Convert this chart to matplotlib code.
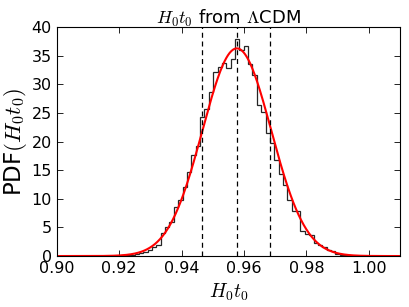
import numpy as np
import matplotlib
matplotlib.use("Agg")
import matplotlib.pyplot as plt

plt.rcParams['mathtext.fontset'] = 'cm'
plt.rcParams['font.family'] = 'DejaVu Sans'

# histogram of H0*t0 samples (normalised counts)
bin_start = 0.9179
bin_width = 0.0014
pdf_counts = [0.03, 0.05, 0.1, 0.15, 0.2, 0.35, 0.5, 0.7, 1.05, 1.6,
              2.0, 4.0, 5.1, 6.0, 8.5, 9.8, 12.0, 14.6, 17.6, 19.2,
              24.3, 25.7, 28.7, 32.2, 33.1, 33.8, 32.9, 34.5, 37.9, 36.0,
              36.7, 33.5, 31.6, 26.4, 25.2, 21.5, 19.8, 16.8, 14.3, 12.4,
              9.8, 7.9, 7.9, 4.4, 3.9, 3.7, 2.2, 2.0, 1.6, 1.0,
              0.8, 0.3, 0.2, 0.12, 0.08, 0.05, 0.03]

# gaussian fit and 16/50/84 percentiles
mu = 0.9577
sigma = 0.0110
percentiles = [0.9465, 0.9577, 0.9684]

edges = bin_start + bin_width * np.arange(len(pdf_counts) + 1)

fig = plt.figure(figsize=(4.09, 3.07), dpi=100)
ax = fig.add_axes([0.139, 0.166, 0.839, 0.746])

ax.stairs(pdf_counts, edges, color='0.15', lw=0.9)

xx = np.linspace(0.90, 1.01, 400)
ax.plot(xx, np.exp(-0.5 * ((xx - mu) / sigma) ** 2) / (sigma * np.sqrt(2 * np.pi)),
        color='red', lw=1.5)

for p in percentiles:
    ax.axvline(p, color='k', ls='--', lw=0.9, dashes=(4, 3))

ax.set_xlim(0.90, 1.01)
ax.set_ylim(0, 40)
ax.set_xticks(np.arange(0.90, 1.001, 0.02))
ax.set_yticks(np.arange(0, 41, 5))
ax.xaxis.set_major_formatter(matplotlib.ticker.FormatStrFormatter('%.2f'))
ax.tick_params(direction='in', top=True, right=True, length=4, width=0.6,
               labelsize=11.5)
for s in ax.spines.values():
    s.set_linewidth(0.8)

ax.set_title(r'$H_0t_0$ from $\Lambda$CDM', fontsize=13, pad=2)
ax.set_xlabel(r'$H_0t_0$', fontsize=14)
ax.set_ylabel(r'PDF$(H_0t_0)$', fontsize=16.5, labelpad=2)

fig.savefig('out.png', dpi=100)
